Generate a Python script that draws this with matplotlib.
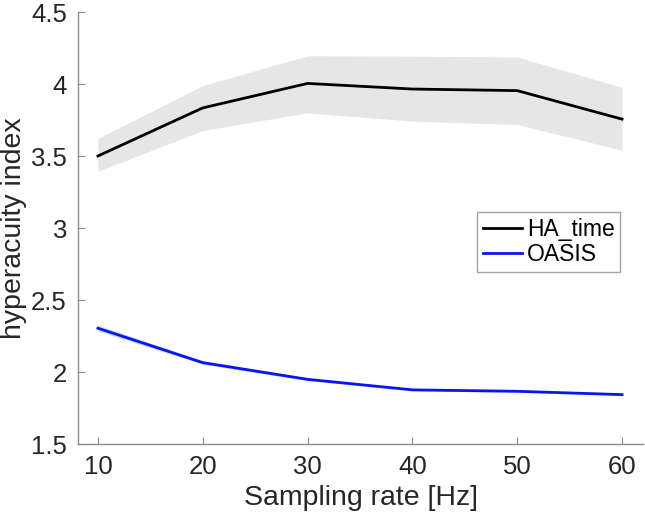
import matplotlib
matplotlib.use("Agg")
import matplotlib.pyplot as plt
import numpy as np

rates = [10, 20, 30, 40, 50, 60]
ha_mean = [3.50, 3.834, 4.004, 3.965, 3.954, 3.756]
ha_lo = [3.394, 3.677, 3.80, 3.742, 3.719, 3.54]
ha_hi = [3.622, 3.989, 4.196, 4.194, 4.187, 3.977]
oasis_mean = [2.304, 2.065, 1.949, 1.876, 1.866, 1.843]
oasis_lo = [2.284, 2.053, 1.940, 1.869, 1.859, 1.837]
oasis_hi = [2.326, 2.079, 1.959, 1.884, 1.873, 1.849]
xticks = [10, 20, 30, 40, 50, 60]
yticks = [1.5, 2, 2.5, 3, 3.5, 4, 4.5]
ytick_labels = ["1.5", "2", "2.5", "3", "3.5", "4", "4.5"]

plt.rcParams['font.family'] = ['Liberation Sans', 'DejaVu Sans']

W, H = 645, 517
fig = plt.figure(figsize=(W / 100, H / 100), dpi=100)
ax = fig.add_axes([78 / W, 1 - 444 / H, 565 / W, 432 / H])

ax.fill_between(rates, ha_lo, ha_hi, color='#e6e6e6', lw=0)
ax.fill_between(rates, oasis_lo, oasis_hi, color='#c9dcf3', lw=0)
ax.plot(rates, ha_mean, color='black', lw=2, label='HA_time')
ax.plot(rates, oasis_mean, color='#0a14f0', lw=2, label='OASIS')

ax.set_xlim(8.1, 62)
ax.set_ylim(1.5, 4.5)
ax.set_xticks(xticks)
ax.set_yticks(yticks)
ax.set_yticklabels(ytick_labels)
for s in ['top', 'right']:
    ax.spines[s].set_visible(False)
for s in ['left', 'bottom']:
    ax.spines[s].set_color('#8c8c8c')
    ax.spines[s].set_linewidth(1)
ax.tick_params(direction='in', color='#8c8c8c', length=5, labelsize=18.5,
               labelcolor='#262626', pad=8)
ax.set_xlabel('Sampling rate [Hz]', fontsize=20.5, color='#262626', labelpad=4)
ax.set_ylabel('hyperacuity index', fontsize=20.5, color='#262626', labelpad=3)

leg = ax.legend(loc='upper left', bbox_to_anchor=(477 / W, 1 - 212 / H),
                bbox_transform=fig.transFigure, fontsize=16.5, frameon=True,
                fancybox=False, edgecolor='#8c8c8c', borderpad=0.25,
                handlelength=1.7, handletextpad=0.22, labelspacing=0.1,
                borderaxespad=0)
leg.get_frame().set_linewidth(1)

fig.savefig('out.png', dpi=100)
